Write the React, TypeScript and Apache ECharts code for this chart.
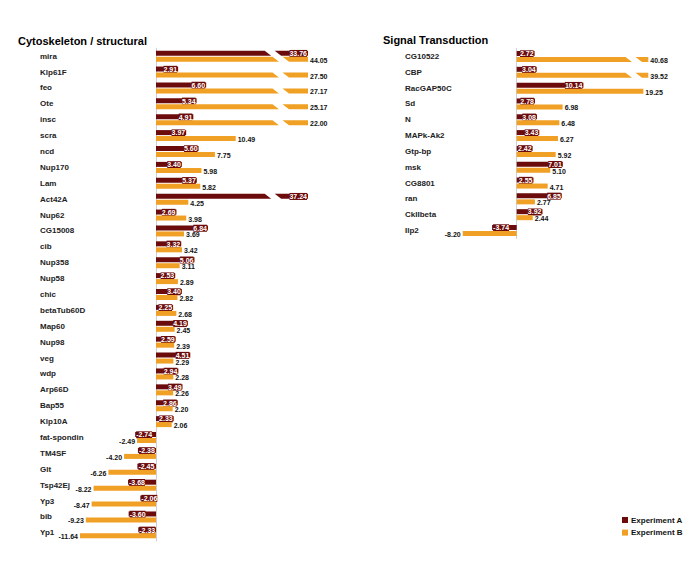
import React, { useEffect, useRef } from "react";
import * as echarts from "echarts";

const cytoGenes = ["mira", "Klp61F", "feo", "Ote", "insc", "scra", "ncd", "Nup170", "Lam", "Act42A", "Nup62", "CG15008", "cib", "Nup358", "Nup58", "chic", "betaTub60D", "Map60", "Nup98", "veg", "wdp", "Arp66D", "Bap55", "Klp10A", "fat-spondin", "TM4SF", "Glt", "Tsp42Ej", "Yp3", "bib", "Yp1"];
const cytoA = [33.76, 2.91, 6.6, 5.34, 4.91, 3.97, 5.6, 3.4, 5.37, 37.24, 2.69, 6.84, 3.32, 5.06, 2.53, 3.4, 2.25, 4.19, 2.59, 4.51, 2.94, 3.49, 2.86, 2.33, -2.74, -2.38, -2.45, -3.68, -2.06, -3.6, -2.33];
const cytoB = [44.05, 27.5, 27.17, 25.17, 22.0, 10.49, 7.75, 5.98, 5.82, 4.25, 3.98, 3.69, 3.42, 3.11, 2.89, 2.82, 2.68, 2.45, 2.39, 2.29, 2.28, 2.26, 2.2, 2.06, -2.49, -4.2, -6.26, -8.22, -8.47, -9.23, -11.64];

const sigGenes = ["CG10522", "CBP", "RacGAP50C", "Sd", "N", "MAPk-Ak2", "Gtp-bp", "msk", "CG8801", "ran", "CkIIbeta", "Ilp2"];
const sigA = [2.72, 3.04, 10.14, 2.78, 3.08, 3.43, 2.42, 7.01, 2.55, 6.85, 3.92, -3.74];
const sigB = [40.68, 39.52, 19.25, 6.98, 6.48, 6.27, 5.92, 5.1, 4.71, 2.77, 2.44, -8.2];

const seriesNames = ["Experiment A", "Experiment B"];
const panelTitles = ["Cytoskeleton / structural", "Signal Transduction"];

const DARK = "#6b0b0b";
const ORANGE = "#f0a024";
const FONT = "Liberation Sans";

type Panel = { min: number; max: number; breakAt: number };
const panels: Panel[] = [
  { min: -10, max: 20, breakAt: 14.3 },
  { min: -10, max: 20, breakAt: 15.35 },
];

const BAR_H = 5;
const SLOPE = 1.3;
const GAP = 10;

function makeRender(which: "A" | "B", panel: Panel) {
  return (params: any, api: any) => {
    const v = api.value(0);
    const idx = api.value(1);
    const c0 = api.coord([0, idx]);
    const x0 = c0[0];
    const cy = c0[1];
    const pairTop = cy - 5.5;
    const top = which === "A" ? pairTop : cy + 0.5;
    const bot = top + BAR_H;
    const color = which === "A" ? DARK : ORANGE;
    const broken = v > panel.max;
    const clamped = Math.max(panel.min, Math.min(v, panel.max));
    const xEnd = api.coord([clamped, idx])[0];
    const children: any[] = [];
    if (broken) {
      const xb = api.coord([panel.breakAt, idx])[0];
      const sTop = xb + SLOPE * (top - pairTop);
      const sBot = xb + SLOPE * (bot - pairTop);
      children.push({
        type: "polygon",
        shape: { points: [[x0, top], [sTop, top], [sBot, bot], [x0, bot]] },
        style: { fill: color },
      });
      children.push({
        type: "polygon",
        shape: { points: [[sTop + GAP, top], [xEnd, top], [xEnd, bot], [sBot + GAP, bot]] },
        style: { fill: color },
      });
    } else {
      children.push({
        type: "rect",
        shape: { x: Math.min(x0, xEnd), y: top, width: Math.abs(xEnd - x0), height: BAR_H },
        style: { fill: color },
      });
    }
    const label = v.toFixed(2);
    if (which === "A") {
      children.push({
        type: "text",
        x: v >= 0 ? xEnd - 1 : xEnd + 1,
        y: top + BAR_H / 2 + 0.3,
        style: {
          text: label,
          fill: "#fff",
          fontSize: 7,
          fontFamily: FONT,
          fontWeight: "bold",
          align: v >= 0 ? "right" : "left",
          verticalAlign: "middle",
          backgroundColor: DARK,
        },
      });
    } else {
      children.push({
        type: "text",
        x: v >= 0 ? xEnd + 2 : xEnd - 2,
        y: top + BAR_H / 2 + 1,
        style: {
          text: label,
          fill: "#111",
          fontSize: 7,
          fontFamily: FONT,
          fontWeight: "bold",
          align: v >= 0 ? "left" : "right",
          verticalAlign: "middle",
        },
      });
    }
    return { type: "group", children };
  };
}

export default function App() {
  const ref = useRef<HTMLDivElement>(null);
  useEffect(() => {
    if (!ref.current) return;
    const chart = echarts.init(ref.current, undefined, { renderer: "svg" });
    const lists = [
      { genes: cytoGenes, a: cytoA, b: cytoB },
      { genes: sigGenes, a: sigA, b: sigB },
    ];
    const series: any[] = [];
    lists.forEach((l, p) => {
      series.push({
        type: "custom",
        name: seriesNames[0],
        xAxisIndex: p,
        yAxisIndex: p,
        clip: false,
        itemStyle: { color: DARK },
        encode: { x: 0, y: 1 },
        data: l.a.map((v, i) => [v, i]),
        renderItem: makeRender("A", panels[p]),
      });
      series.push({
        type: "custom",
        name: seriesNames[1],
        xAxisIndex: p,
        yAxisIndex: p,
        clip: false,
        itemStyle: { color: ORANGE },
        encode: { x: 0, y: 1 },
        data: l.b.map((v, i) => [v, i]),
        renderItem: makeRender("B", panels[p]),
      });
    });
    chart.setOption({
      animation: false,
      backgroundColor: "#fff",
      title: [
        { text: panelTitles[0], left: 18, top: 35, padding: 0, textStyle: { fontSize: 11, fontWeight: "bold", fontFamily: FONT, color: "#000" } },
        { text: panelTitles[1], left: 383, top: 34.5, padding: 0, textStyle: { fontSize: 11, fontWeight: "bold", fontFamily: FONT, color: "#000" } },
      ],
      legend: {
        orient: "vertical",
        left: 622,
        top: 516,
        icon: "rect",
        itemWidth: 6,
        itemHeight: 6,
        itemGap: 4.6,
        padding: 0,
        data: [
          { name: seriesNames[0], itemStyle: { color: DARK } },
          { name: seriesNames[1], itemStyle: { color: ORANGE } },
        ],
        textStyle: { fontSize: 8, fontWeight: "bold", fontFamily: FONT, color: "#111", lineHeight: 8, padding: [0, 0, 0, -2] },
      },
      grid: [
        { left: 80, top: 48.2, width: 228, height: 492.6, containLabel: false, outerBoundsMode: "none" },
        { left: 450.9, top: 48.6, width: 197.4, height: 189.8, containLabel: false, outerBoundsMode: "none" },
      ],
      xAxis: panels.map((pn, p) => ({
        type: "value",
        gridIndex: p,
        min: pn.min,
        max: pn.max,
        show: false,
      })),
      yAxis: lists.map((l, p) => ({
        type: "category",
        gridIndex: p,
        data: l.genes,
        inverse: true,
        axisLine: { show: true, onZero: true, lineStyle: { color: "#cfcfcf", width: 1 } },
        axisTick: { show: false },
        splitLine: { show: false },
        axisLabel: {
          align: "left",
          margin: p === 0 ? 40 : 45.9,
          fontSize: 8,
          fontWeight: "bold",
          fontFamily: FONT,
          color: "#222",
          verticalAlign: "middle",
        },
      })),
      series,
    });
    return () => chart.dispose();
  }, []);
  return <div ref={ref} style={{ position: "absolute", left: 0, top: 0, width: 685, height: 571 }} />;
}
